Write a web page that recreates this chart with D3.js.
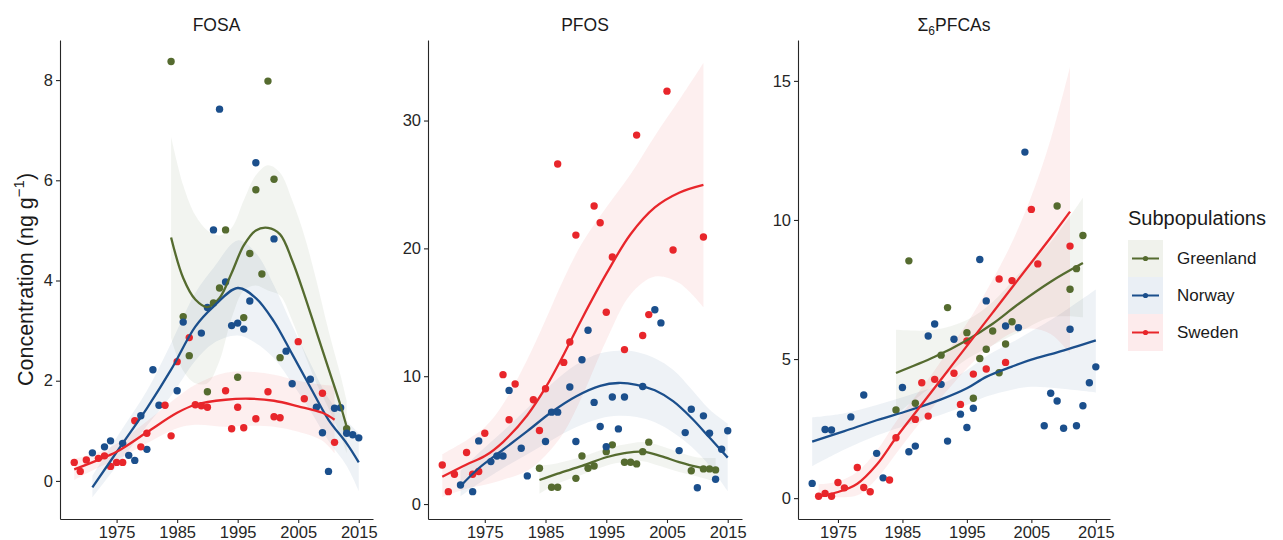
<!DOCTYPE html>
<html>
<head>
<meta charset="utf-8">
<title>Subpopulations</title>
<script src="https://d3js.org/d3.v7.min.js"></script>
<style>
  body { margin: 0; background: #fff; }
  text { font-family: Arial, "Liberation Sans", sans-serif; }
</style>
</head>
<body>
<div id="chart"></div>
<script>
var WIDTH = 1283
var HEIGHT = 540
var TOP = 40
var BOTTOM = 519

var groups = ["Greenland", "Norway", "Sweden"]
var colors = ["#556b2f", "#1b4f8c", "#e8262b"]
var xTicks = [1975, 1985, 1995, 2005, 2015]

// ---- FOSA ----
var fosaTicks = [0, 2, 4, 6, 8]
var fosaDomain = [-0.76, 8.8]
var fosaGreenland = [[1984,8.37],[1986,3.28],[1987,2.50],[1990,1.78],[1991,3.55],[1992,3.85],[1993,5.01],
  [1995,2.07],[1996,3.26],[1997,4.54],[1998,5.81],[1999,4.13],[2000,7.98],[2001,6.02],[2002,2.46],[2013,1.04]]
var fosaNorway = [[1971,0.56],[1973,0.68],[1974,0.80],[1976,0.75],[1977,0.51],[1978,0.41],[1979,1.30],[1980,0.63],
  [1981,2.22],[1982,1.51],[1985,1.80],[1986,3.17],[1989,2.95],[1990,3.46],[1991,5.01],[1992,7.42],[1993,3.97],
  [1994,3.10],[1995,3.15],[1996,3.03],[1997,3.59],[1998,6.35],[2001,4.83],[2003,2.59],[2004,1.94],[2007,2.03],
  [2008,1.47],[2009,0.96],[2010,0.19],[2011,1.45],[2012,1.46],[2013,0.95],[2014,0.92],[2015,0.86]]
var fosaSweden = [[1968,0.37],[1969,0.19],[1970,0.42],[1972,0.45],[1973,0.50],[1974,0.29],[1975,0.37],[1976,0.37],
  [1978,1.20],[1979,0.68],[1980,0.95],[1983,1.51],[1984,0.90],[1985,2.38],[1987,2.86],[1988,1.52],[1989,1.50],
  [1990,1.47],[1993,1.80],[1994,1.04],[1995,1.47],[1996,1.06],[1998,1.24],[2000,1.78],[2001,1.28],[2002,1.26],
  [2005,2.78],[2006,1.64],[2009,1.75],[2011,0.77]]
// smooth: [year, fit, lower, upper]
var fosaGreenlandFit = [[1984,4.86,2.85,6.87],[1986,4.05,2.2,5.9],[1988,3.62,1.95,5.3],[1990,3.47,1.95,5.0],
  [1992,3.65,2.4,4.9],[1994,4.15,3.25,5.05],[1996,4.7,3.8,5.6],[1998,5.0,3.9,6.1],[2000,5.05,3.8,6.3],
  [2002,4.92,3.7,6.15],[2004,4.4,3.2,5.6],[2006,3.72,2.55,4.9],[2008,2.98,1.95,4.0],[2010,2.24,1.45,3.0],
  [2012,1.5,0.9,2.1],[2013,1.08,0.55,1.6]]
var fosaNorwayFit = [[1971,-0.13,-0.33,0.1],[1976,0.75,0.45,1.05],[1980,1.45,1.1,1.8],[1984,2.22,1.7,2.75],
  [1988,3.08,2.4,3.75],[1991,3.48,2.75,4.25],[1995,3.85,2.9,4.8],[1998,3.65,2.75,4.55],[2001,3.18,2.45,3.9],
  [2004,2.53,1.95,3.1],[2007,1.87,1.4,2.35],[2010,1.22,0.8,1.65],[2013,0.75,0.3,1.2],[2015,0.37,-0.2,0.95]]
var fosaSwedenFit = [[1968,0.23,0.02,0.44],[1972,0.42,0.27,0.57],[1975,0.58,0.42,0.74],[1980,0.97,0.75,1.19],
  [1985,1.36,1.05,1.67],[1988,1.52,1.12,1.92],[1993,1.62,1.08,2.16],[1997,1.64,1.1,2.18],[2001,1.6,1.08,2.12],
  [2005,1.49,0.98,2.0],[2009,1.36,0.8,1.92],[2011,1.22,0.55,1.9]]

// ---- PFOS ----
var pfosTicks = [0, 10, 20, 30]
var pfosDomain = [-1.17, 36.3]
var pfosGreenland = [[1984,2.8],[1986,1.31],[1987,1.31],[1990,2.01],[1991,3.76],[1992,2.8],[1993,2.98],[1995,4.1],
  [1996,4.63],[1998,3.27],[1999,3.27],[2000,3.14],[2001,4.1],[2002,4.84],[2009,2.61],[2011,2.75],[2012,2.75],[2013,2.67]]
var pfosNorway = [[1971,1.49],[1973,0.97],[1974,4.94],[1976,3.32],[1977,3.76],[1978,3.76],[1979,8.89],[1981,4.37],
  [1982,2.2],[1985,4.89],[1986,7.19],[1987,7.19],[1989,9.15],[1990,4.89],[1991,11.29],[1992,13.59],[1993,7.95],
  [1994,6.06],[1995,4.49],[1996,8.37],[1997,5.88],[1998,8.37],[2001,9.2],[2003,15.2],[2004,14.17],[2007,4.18],
  [2008,5.59],[2009,7.42],[2010,1.28],[2011,6.9],[2012,5.54],[2013,1.94],[2014,4.29],[2015,5.73]]
var pfosSweden = [[1968,3.06],[1969,0.97],[1970,2.33],[1972,4.03],[1973,2.33],[1974,2.54],[1975,5.54],[1978,10.12],
  [1979,6.59],[1980,9.39],[1983,8.16],[1984,5.75],[1985,9.02],[1987,26.6],[1988,11.08],[1989,12.68],[1990,21.04],
  [1993,23.32],[1994,22.0],[1995,15.0],[1996,19.32],[1998,12.08],[2000,28.86],[2001,13.18],[2002,14.82],
  [2005,32.3],[2006,19.87],[2011,20.89]]
var pfosGreenlandFit = [[1984,1.88,0.8,3.0],[1987,2.38,1.6,3.2],[1991,2.98,2.3,3.7],[1995,3.66,3.0,4.35],
  [1998,3.98,3.3,4.65],[2001,4.1,3.35,4.85],[2004,3.75,2.95,4.55],[2007,3.28,2.5,4.05],[2010,2.9,2.15,3.65],
  [2013,2.68,1.75,3.6]]
var pfosNorwayFit = [[1971,1.4,0.6,2.6],[1974,2.8,1.6,4.0],[1978,4.25,2.8,5.7],[1982,5.7,3.9,7.5],[1986,7.2,5.0,9.4],
  [1990,8.42,6.0,10.9],[1994,9.25,6.7,11.8],[1997,9.47,6.9,12.0],[2000,9.33,6.8,11.9],[2003,8.9,6.4,11.4],
  [2006,8.05,5.6,10.5],[2009,6.75,4.5,9.0],[2012,5.2,3.0,7.4],[2015,3.63,1.0,6.3]]
var pfosSwedenFit = [[1968,2.14,0.55,3.9],[1972,3.1,1.2,5.0],[1975,3.75,1.5,6.0],[1978,4.85,1.9,7.8],
  [1982,6.95,2.6,11.3],[1985,9.1,3.8,14.4],[1988,11.7,5.6,17.6],[1991,14.5,8.4,20.4],[1995,18.0,12.8,23.2],
  [1999,21.1,16.4,25.8],[2003,23.2,17.8,28.8],[2007,24.35,17.3,31.6],[2011,24.96,15.4,34.5]]

// ---- sum of 6 PFCAs ----
var pfcaTicks = [0, 5, 10, 15]
var pfcaDomain = [-0.75, 16.47]
var pfcaGreenland = [[1984,3.17],[1986,8.53],[1987,3.41],[1991,5.14],[1992,6.85],[1995,5.95],[1996,3.59],[1997,5.02],
  [1998,5.35],[1999,6.01],[2000,4.51],[2001,5.54],[2002,6.34],[2009,10.5],[2011,7.51],[2012,8.25],[2013,9.44]]
var pfcaNorway = [[1971,0.53],[1973,2.47],[1974,2.45],[1977,2.92],[1979,3.71],[1981,1.61],[1982,0.73],[1985,3.98],
  [1986,1.67],[1987,1.87],[1989,5.83],[1990,6.26],[1991,4.09],[1992,2.05],[1993,5.71],[1994,3.02],[1995,2.54],
  [1996,3.23],[1997,8.58],[1998,7.09],[2001,6.19],[2003,6.13],[2004,12.44],[2007,2.6],[2008,3.77],[2009,3.49],
  [2010,2.51],[2011,6.07],[2012,2.6],[2013,3.32],[2014,4.15],[2015,4.72]]
var pfcaSweden = [[1972,0.07],[1973,0.17],[1974,0.07],[1975,0.56],[1976,0.37],[1978,1.10],[1979,0.38],[1980,0.23],
  [1983,0.65],[1984,2.17],[1987,2.83],[1988,4.15],[1989,2.95],[1990,4.27],[1993,4.49],[1994,3.37],[1995,5.65],
  [1996,4.46],[1998,4.64],[2000,7.88],[2001,4.88],[2002,7.82],[2005,10.38],[2006,8.42],[2011,9.06]]
var pfcaGreenlandFit = [[1984,4.5,3.0,6.05],[1990,5.08,4.1,6.05],[1995,5.68,5.0,6.4],[1999,6.27,5.5,7.05],
  [2003,6.98,5.95,8.05],[2008,7.78,6.5,9.2],[2013,8.45,6.5,10.8]]
var pfcaNorwayFit = [[1971,2.03,1.15,2.9],[1976,2.41,1.75,3.05],[1981,2.8,2.25,3.35],[1986,3.15,2.65,3.7],
  [1991,3.55,3.0,4.1],[1995,3.95,3.35,4.6],[1998,4.36,3.65,5.1],[2002,4.73,3.9,5.6],[2005,4.98,4.0,6.0],
  [2009,5.24,3.95,6.55],[2015,5.67,3.8,7.5]]
var pfcaSwedenFit = [[1972,0.06,0.03,0.5],[1975,0.22,0.03,0.6],[1978,0.52,0.1,0.95],[1981,1.2,0.7,1.7],
  [1984,2.17,1.6,2.75],[1987,3.07,2.5,3.65],[1990,3.97,3.35,4.6],[1993,4.87,4.15,5.6],[1996,5.77,4.9,6.65],
  [1999,6.67,5.5,7.85],[2002,7.57,5.95,9.2],[2005,8.47,6.1,10.85],[2008,9.37,5.9,12.9],[2011,10.3,5.2,15.5]]

var panels = [
  { title: "FOSA", x0: 60, x1: 373, yDomain: fosaDomain, yTicks: fosaTicks,
    points: [fosaGreenland, fosaNorway, fosaSweden], fits: [fosaGreenlandFit, fosaNorwayFit, fosaSwedenFit] },
  { title: "PFOS", x0: 428, x1: 742, yDomain: pfosDomain, yTicks: pfosTicks,
    points: [pfosGreenland, pfosNorway, pfosSweden], fits: [pfosGreenlandFit, pfosNorwayFit, pfosSwedenFit] },
  { title: "PFCAs", x0: 798, x1: 1110, yDomain: pfcaDomain, yTicks: pfcaTicks,
    points: [pfcaGreenland, pfcaNorway, pfcaSweden], fits: [pfcaGreenlandFit, pfcaNorwayFit, pfcaSwedenFit] }
]

var svg = d3.select("#chart").append("svg")
  .attr("width", WIDTH)
  .attr("height", HEIGHT)

var curve = d3.curveCatmullRom.alpha(0.5)

panels.forEach(function(p, pi) {
  var years = d3.merge(p.points).map(function(d) { return d[0] })
  var ext = d3.extent(years)
  var pad = (ext[1] - ext[0]) * 0.05
  var x = d3.scaleLinear().domain([ext[0] - pad, ext[1] + pad]).range([p.x0, p.x1])
  var y = d3.scaleLinear().domain(p.yDomain).range([BOTTOM, TOP])

  var g = svg.append("g")

  // ribbons
  p.fits.forEach(function(f, i) {
    g.append("path")
      .datum(f)
      .attr("d", d3.area().curve(curve)
        .x(function(d) { return x(d[0]) })
        .y0(function(d) { return y(d[2]) })
        .y1(function(d) { return y(d[3]) }))
      .attr("fill", colors[i])
      .attr("fill-opacity", 0.075)
  })

  // points
  p.points.forEach(function(pts, i) {
    g.append("g").selectAll("circle")
      .data(pts)
      .enter().append("circle")
      .attr("cx", function(d) { return x(d[0]) })
      .attr("cy", function(d) { return y(d[1]) })
      .attr("r", 3.7)
      .attr("fill", colors[i])
  })

  // fitted lines
  p.fits.forEach(function(f, i) {
    g.append("path")
      .datum(f)
      .attr("d", d3.line().curve(curve)
        .x(function(d) { return x(d[0]) })
        .y(function(d) { return y(d[1]) }))
      .attr("fill", "none")
      .attr("stroke", colors[i])
      .attr("stroke-width", 2.3)
  })

  // axes
  var ya = g.append("g")
    .attr("transform", "translate(" + p.x0 + ",0)")
    .call(d3.axisLeft(y).tickValues(p.yTicks).tickSize(4).tickSizeOuter(0).tickPadding(3))
  var xa = g.append("g")
    .attr("transform", "translate(0," + BOTTOM + ")")
    .call(d3.axisBottom(x).tickValues(xTicks).tickFormat(d3.format("d")).tickSize(4).tickSizeOuter(0).tickPadding(3))
  ;[ya, xa].forEach(function(a) {
    a.selectAll("text").attr("font-size", 16.5).attr("fill", "#262626")
      .attr("font-family", "Arial, 'Liberation Sans', sans-serif")
    a.selectAll("path, line").attr("stroke", "#262626").attr("stroke-width", 1.1)
  })

  // facet title
  var t = svg.append("text")
    .attr("x", (p.x0 + p.x1) / 2)
    .attr("y", 31)
    .attr("text-anchor", "middle")
    .attr("font-size", 17.5)
    .attr("fill", "#1a1a1a")
  if (pi === 2) {
    t.append("tspan").text("\u03A3")
    t.append("tspan").attr("font-size", 12).attr("dy", 4).text("6")
    t.append("tspan").attr("dy", -4).text("PFCAs")
  } else {
    t.text(p.title)
  }
})

// y axis title
var yt = svg.append("text")
  .attr("transform", "translate(33," + ((TOP + BOTTOM) / 2) + ") rotate(-90)")
  .attr("text-anchor", "middle")
  .attr("font-size", 21.5)
  .attr("fill", "#1a1a1a")
yt.append("tspan").text("Concentration (ng g")
yt.append("tspan").attr("font-size", 15).attr("dy", -9).text("\u22121")
yt.append("tspan").attr("dy", 9).text(")")

// legend
var legend = svg.append("g").attr("transform", "translate(1128,0)")
legend.append("text")
  .attr("x", 0).attr("y", 225)
  .attr("font-size", 20)
  .attr("fill", "#1a1a1a")
  .text("Subpopulations")
groups.forEach(function(name, i) {
  var ky = 240 + i * 37
  legend.append("rect")
    .attr("x", 0).attr("y", ky).attr("width", 35).attr("height", 37)
    .attr("fill", colors[i]).attr("fill-opacity", 0.09)
  legend.append("line")
    .attr("x1", 4).attr("x2", 31).attr("y1", ky + 18.5).attr("y2", ky + 18.5)
    .attr("stroke", colors[i]).attr("stroke-width", 2)
  legend.append("circle")
    .attr("cx", 17.5).attr("cy", ky + 18.5).attr("r", 2.6)
    .attr("fill", colors[i])
  legend.append("text")
    .attr("x", 49).attr("y", ky + 18.5).attr("dy", "0.35em")
    .attr("font-size", 17)
    .attr("fill", "#1a1a1a")
    .text(name)
})
</script>
</body>
</html>
